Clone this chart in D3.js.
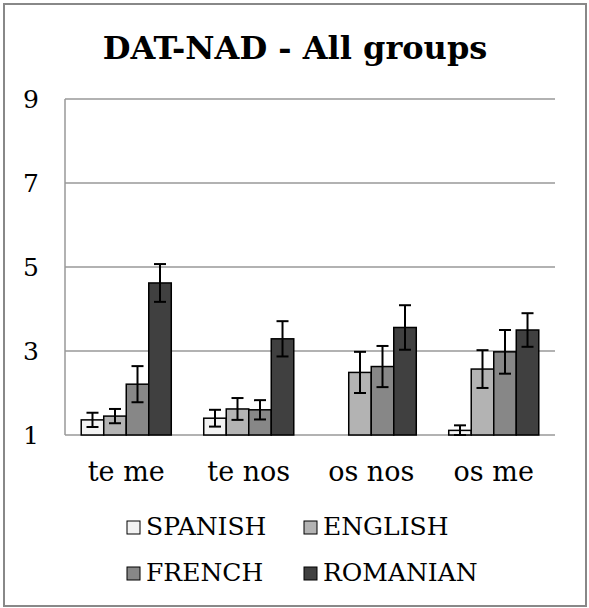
<!DOCTYPE html>
<html lang="en">
<head>
<meta charset="UTF-8">
<title>DAT-NAD - All groups</title>
<script src="https://d3js.org/d3.v7.min.js"></script>
<style>
    body { margin: 0; background: #fff; }
    text { font-family: "DejaVu Serif", serif; fill: #000; }
</style>
</head>
<body>
<div id="chart"></div>
<script>
// data
const categories = ["te me", "te nos", "os nos", "os me"];
const seriesNames = ["SPANISH", "ENGLISH", "FRENCH", "ROMANIAN"];
const spanish = [1.36, 1.40, 1.00, 1.11];
const english = [1.45, 1.62, 2.49, 2.57];
const french = [2.21, 1.60, 2.63, 2.98];
const romanian = [4.62, 3.29, 3.56, 3.50];
const spanishErr = [0.17, 0.20, 0, 0.12];
const englishErr = [0.17, 0.26, 0.49, 0.45];
const frenchErr = [0.43, 0.23, 0.49, 0.52];
const romanianErr = [0.45, 0.42, 0.53, 0.40];
const yTicks = [1, 3, 5, 7, 9];

const colors = ["#f2f2f2", "#b3b3b3", "#878787", "#404040"];
const values = [spanish, english, french, romanian];
const errors = [spanishErr, englishErr, frenchErr, romanianErr];

const width = 589, height = 608;
const plot = { left: 65, right: 555, top: 99, bottom: 435 };

const svg = d3.select("#chart").append("svg")
    .attr("width", width)
    .attr("height", height);

// outer frame
svg.append("rect")
    .attr("x", 4).attr("y", 4)
    .attr("width", 582).attr("height", 602)
    .attr("fill", "#fff")
    .attr("stroke", "#888")
    .attr("stroke-width", 2);

svg.append("text")
    .attr("x", 295).attr("y", 59)
    .attr("text-anchor", "middle")
    .attr("font-size", 32)
    .attr("font-weight", "bold")
    .text("DAT-NAD - All groups");

const y = d3.scaleLinear().domain([1, 9]).range([plot.bottom, plot.top]);
const x0 = d3.scaleBand().domain(categories).range([plot.left, plot.right]);
const groupW = x0.bandwidth() * 0.735;
const x1 = d3.scaleBand().domain(seriesNames).range([0, groupW]);

// gridlines
svg.append("g")
    .selectAll("line")
    .data(yTicks)
    .join("line")
    .attr("x1", plot.left).attr("x2", plot.right)
    .attr("y1", d => y(d)).attr("y2", d => y(d))
    .attr("stroke", "#999")
    .attr("stroke-width", 1.5);

svg.append("line")
    .attr("x1", plot.left).attr("x2", plot.left)
    .attr("y1", plot.top).attr("y2", plot.bottom)
    .attr("stroke", "#999")
    .attr("stroke-width", 1.5);

// y tick labels
svg.append("g")
    .selectAll("text")
    .data(yTicks)
    .join("text")
    .attr("x", 39)
    .attr("y", d => y(d))
    .attr("dy", "0.36em")
    .attr("text-anchor", "end")
    .attr("font-size", 25)
    .text(d => d);

// bars
const rows = [];
categories.forEach((c, i) => {
    seriesNames.forEach((s, j) => {
        rows.push({ cat: c, series: s, idx: j, value: values[j][i], err: errors[j][i] });
    });
});

const offset = (x0.bandwidth() - groupW) / 2;
const barX = d => x0(d.cat) + offset + x1(d.series);

svg.append("g")
    .selectAll("rect")
    .data(rows)
    .join("rect")
    .attr("x", barX)
    .attr("y", d => y(d.value))
    .attr("width", x1.bandwidth())
    .attr("height", d => y(1) - y(d.value))
    .attr("fill", d => colors[d.idx])
    .attr("stroke", d => (y(1) - y(d.value)) < 1 ? "#999" : "#000")
    .attr("stroke-width", 1.5);

// error bars
const errG = svg.append("g")
    .attr("stroke", "#000")
    .attr("stroke-width", 2);
const errRows = rows.filter(d => d.err > 0);
const cap = 6;
errG.selectAll(".stem")
    .data(errRows)
    .join("line")
    .attr("x1", d => barX(d) + x1.bandwidth() / 2)
    .attr("x2", d => barX(d) + x1.bandwidth() / 2)
    .attr("y1", d => y(Math.max(1, d.value - d.err)))
    .attr("y2", d => y(d.value + d.err));
errG.selectAll(".capTop")
    .data(errRows)
    .join("line")
    .attr("x1", d => barX(d) + x1.bandwidth() / 2 - cap)
    .attr("x2", d => barX(d) + x1.bandwidth() / 2 + cap)
    .attr("y1", d => y(d.value + d.err))
    .attr("y2", d => y(d.value + d.err));
errG.selectAll(".capBot")
    .data(errRows)
    .join("line")
    .attr("x1", d => barX(d) + x1.bandwidth() / 2 - cap)
    .attr("x2", d => barX(d) + x1.bandwidth() / 2 + cap)
    .attr("y1", d => y(Math.max(1, d.value - d.err)))
    .attr("y2", d => y(Math.max(1, d.value - d.err)));

// category labels
svg.append("g")
    .selectAll("text")
    .data(categories)
    .join("text")
    .attr("x", d => x0(d) + x0.bandwidth() / 2)
    .attr("y", 481)
    .attr("text-anchor", "middle")
    .attr("font-size", 27)
    .text(d => d);

// legend
const legendPos = [[127, 521], [304, 521], [127, 567], [304, 567]];
const legend = svg.append("g")
    .selectAll("g")
    .data(seriesNames)
    .join("g")
    .attr("transform", (d, i) => `translate(${legendPos[i][0]},${legendPos[i][1]})`);
legend.append("rect")
    .attr("width", 13).attr("height", 13)
    .attr("fill", (d, i) => colors[i])
    .attr("stroke", "#000")
    .attr("stroke-width", 1);
legend.append("text")
    .attr("x", 19)
    .attr("y", 14)
    .attr("font-size", 25)
    .text(d => d);
</script>
</body>
</html>
